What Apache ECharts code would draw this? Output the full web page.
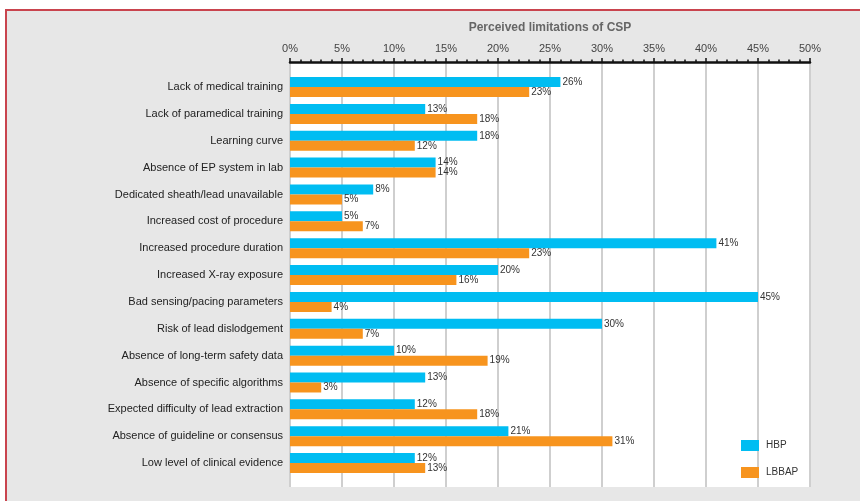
<!DOCTYPE html>
<html>
<head>
<meta charset="utf-8">
<script src="https://cdn.jsdelivr.net/npm/echarts@6/dist/echarts.min.js"></script>
<style>
html,body{margin:0;padding:0;background:#fff;}
#chart{width:860px;height:501px;}
</style>
</head>
<body>
<div id="chart"></div>
<script>
const categories = [
  'Lack of medical training',
  'Lack of paramedical training',
  'Learning curve',
  'Absence of EP system in lab',
  'Dedicated sheath/lead unavailable',
  'Increased cost of procedure',
  'Increased procedure duration',
  'Increased X-ray exposure',
  'Bad sensing/pacing parameters',
  'Risk of lead dislodgement',
  'Absence of long-term safety data',
  'Absence of specific algorithms',
  'Expected difficulty of lead extraction',
  'Absence of guideline or consensus',
  'Low level of clinical evidence'
];
const hbp   = [26, 13, 18, 14, 8, 5, 41, 20, 45, 30, 10, 13, 12, 21, 12];
const lbbap = [23, 18, 12, 14, 5, 7, 23, 16, 4, 7, 19, 3, 18, 31, 13];
const seriesNames = ['HBP', 'LBBAP'];
const axisTitle = 'Perceived limitations of CSP';

const FONT = '"Liberation Sans Narrow", "Liberation Sans", Arial, sans-serif';
const chart = echarts.init(document.getElementById('chart'), null, {renderer: 'canvas'});

const labelStyle = {
  show: true, position: 'right', distance: 2,
  formatter: p => p.value + '%',
  fontFamily: FONT, fontSize: 10, color: '#333'
};

chart.setOption({
  backgroundColor: '#ffffff',
  animation: false,
  graphic: [{
    type: 'rect', z: -10, silent: true,
    shape: {x: 6, y: 10, width: 900, height: 600},
    style: {fill: '#e7e7e7', stroke: '#c9444e', lineWidth: 2}
  }],
  grid: [
    {left: 290, right: 50, top: 62, bottom: 14, show: true, backgroundColor: '#ffffff', borderWidth: 0},
    {left: 290, right: 50, top: 73.6, height: 402.9}
  ],
  xAxis: [
    {
      gridIndex: 0, type: 'value', position: 'top', min: 0, max: 50, interval: 5,
      name: axisTitle, nameLocation: 'middle', nameGap: 28,
      nameTextStyle: {fontFamily: FONT, fontWeight: 'bold', fontSize: 12, color: '#666'},
      axisLine: {show: true, onZero: false, lineStyle: {color: '#111', width: 2.5}},
      axisTick: {show: true, inside: false, length: 4, lineStyle: {color: '#111', width: 1.5}},
      minorTick: {show: true, splitNumber: 5, length: 2.5, lineStyle: {color: '#111', width: 1.5}},
      splitLine: {show: true, lineStyle: {color: '#cfcfcf', width: 2}},
      axisLabel: {formatter: '{value}%', margin: 8, fontFamily: FONT, fontSize: 11, color: '#444'}
    },
    {
      gridIndex: 1, type: 'value', min: 0, max: 50, show: false
    }
  ],
  yAxis: [
    {gridIndex: 0, type: 'value', show: false},
    {
      gridIndex: 1, type: 'category', data: categories, inverse: true,
      axisLine: {show: false}, axisTick: {show: false},
      axisLabel: {margin: 7, fontFamily: '"Liberation Sans", Arial, sans-serif', fontSize: 11, color: '#222'}
    }
  ],
  legend: {
    orient: 'vertical', left: 736, top: 435, itemWidth: 18, itemHeight: 11, itemGap: 16,
    icon: 'rect', data: seriesNames,
    textStyle: {fontFamily: FONT, fontSize: 10, color: '#333', padding: [0, 0, 0, 2]}
  },
  series: [
    {
      name: seriesNames[0], type: 'bar', xAxisIndex: 1, yAxisIndex: 1,
      data: hbp, barWidth: 10, barGap: '0%',
      itemStyle: {color: '#00bdf2'}, label: labelStyle
    },
    {
      name: seriesNames[1], type: 'bar', xAxisIndex: 1, yAxisIndex: 1,
      data: lbbap, barWidth: 10, barGap: '0%',
      itemStyle: {color: '#f7941e'}, label: labelStyle
    }
  ]
});
</script>
</body>
</html>
